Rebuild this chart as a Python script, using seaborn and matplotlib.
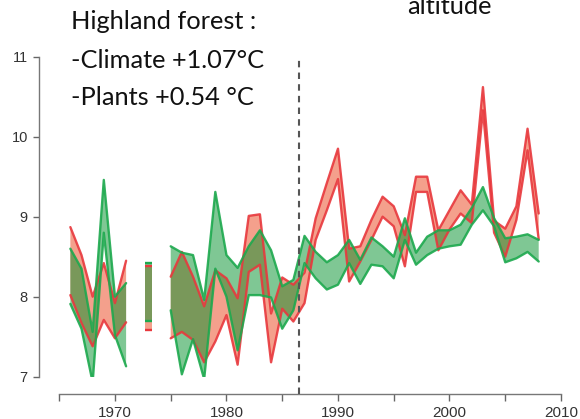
import numpy as np
import pandas as pd
import matplotlib
matplotlib.use("Agg")
import matplotlib.pyplot as plt
import seaborn as sns

nan = np.nan
years = list(range(1966, 2009))
climate_low = [8.02, 7.67, 7.38, 7.71, 7.48, 7.68, nan, 7.58, nan,
               7.48, 7.56, 7.46, 7.18, 7.44, 7.77, 7.15, 8.31, 8.40, 7.18, 7.85, 7.69,
               7.92, 8.71, 9.08, 9.47, 8.19, 8.44, 8.71, 9.00, 8.88, 8.38, 9.31, 9.31,
               8.58, 8.84, 9.04, 8.92, 10.33, 8.80, 8.50, 8.96, 9.83, 8.72]
climate_high = [8.87, 8.52, 8.00, 8.42, 7.92, 8.45, nan, 8.38, nan,
                8.25, 8.56, 8.25, 7.88, 8.33, 8.23, 7.98, 9.01, 9.03, 7.79, 8.24, 8.15,
                8.30, 8.98, 9.42, 9.85, 8.60, 8.63, 8.96, 9.25, 9.13, 8.77, 9.50, 9.50,
                8.83, 9.08, 9.33, 9.15, 10.62, 8.95, 8.85, 9.13, 10.10, 9.04]
plants_low = [7.91, 7.60, 6.93, 8.80, 7.52, 7.13, nan, 7.69, nan,
              7.83, 7.03, 7.47, 6.97, 8.35, 8.00, 7.33, 8.02, 8.02, 7.99, 7.60, 7.83,
              8.42, 8.23, 8.09, 8.15, 8.42, 8.16, 8.40, 8.38, 8.23, 8.71, 8.40, 8.52,
              8.60, 8.63, 8.65, 8.90, 9.08, 8.88, 8.43, 8.48, 8.56, 8.44]
plants_high = [8.60, 8.35, 7.56, 9.46, 8.00, 8.17, nan, 8.42, nan,
               8.63, 8.55, 8.52, 7.96, 9.31, 8.52, 8.36, 8.63, 8.83, 8.58, 8.13, 8.21,
               8.76, 8.56, 8.43, 8.52, 8.71, 8.46, 8.74, 8.63, 8.50, 8.98, 8.55, 8.75,
               8.83, 8.83, 8.90, 9.11, 9.37, 8.98, 8.73, 8.75, 8.78, 8.71]
breakpoint_year = 1986.5
xtick_years = list(range(1965, 2011, 5))
xlabel_years = list(range(1970, 2011, 10))
yticks = [7, 8, 9, 10, 11]
text_lines = ["Highland forest :", "-Climate +1.07°C", "-Plants +0.54 °C"]
top_text = "altitude"

df = pd.DataFrame({"year": years, "clim_lo": climate_low, "clim_hi": climate_high,
                   "pl_lo": plants_low, "pl_hi": plants_high})
df["seg"] = df["clim_lo"].isna().cumsum()

sns.set_theme(style="ticks")
plt.rcParams["font.family"] = ["Liberation Sans", "DejaVu Sans"]

fig = plt.figure(figsize=(5.8, 4.19), dpi=100)
ax = fig.add_axes([59.2 / 580, 1 - 376.7 / 419, 501.8 / 580, 320 / 419])

bands = [("clim_lo", "clim_hi", "#F4A08C", 1.0, "#E8383D"),
         ("pl_lo", "pl_hi", "#00912A", 0.5, "#1DA94E")]

for lo, hi, fc, fa, lc in bands:
    ax.fill_between(df["year"], df[lo], df[hi], color=fc, alpha=fa, lw=0, zorder=2)
    for s, g in df.dropna().groupby("seg"):
        if len(g) > 1:
            sns.lineplot(x=g["year"], y=g[lo], color=lc, lw=1.7, ax=ax, zorder=3, alpha=0.9)
            sns.lineplot(x=g["year"], y=g[hi], color=lc, lw=1.7, ax=ax, zorder=3, alpha=0.9)
        else:
            yr = g["year"].values[0]
            ax.bar(yr, g[hi].values[0] - g[lo].values[0], bottom=g[lo].values[0],
                   width=0.6, color=fc, alpha=fa, lw=0, zorder=2)
            ax.hlines([g[lo].values[0], g[hi].values[0]], yr - 0.3, yr + 0.3,
                      color=lc, lw=1.7, zorder=3)

ax.axvline(breakpoint_year, ymin=-0.054, ymax=1.0, color="#555555", lw=1.5,
           dashes=(3.1, 2.5), clip_on=False, zorder=4)

ax.set_xlim(1965, 2010)
ax.set_ylim(7, 11)
ax.set_xticks(xtick_years)
ax.set_xticklabels([str(y) if y in xlabel_years else "" for y in xtick_years])
ax.set_yticks(yticks)
ax.set_yticklabels([str(v) for v in yticks])
ax.set_xlabel("")
ax.set_ylabel("")

sns.despine(ax=ax, offset={"left": 14.3, "bottom": 12.5})
for sp in ["left", "bottom"]:
    ax.spines[sp].set_color("#777777")
    ax.spines[sp].set_linewidth(1.0)
ax.spines["left"].set_bounds(7, 11)
ax.spines["bottom"].set_bounds(1965, 2010)
ax.tick_params(axis="x", length=4.8, width=1.0, color="#666666", labelsize=11,
               labelcolor="#333333", pad=4)
ax.tick_params(axis="y", length=4.3, width=1.0, color="#666666", labelsize=10.5,
               labelcolor="#333333", pad=4)
ax.set_facecolor("white")

tf = ["Lato", "DejaVu Sans"]
baselines = [29, 68, 105]
for t, b in zip(text_lines, baselines):
    fig.text(71 / 580, 1 - b / 419, t, fontsize=18.3, family=tf, color="#111111",
             va="baseline", ha="left")
fig.text(407 / 580, 1 - 14 / 419, top_text, fontsize=18.3, family=tf, color="#111111",
         va="baseline", ha="left")

fig.savefig("out.png", dpi=100, facecolor="white")
